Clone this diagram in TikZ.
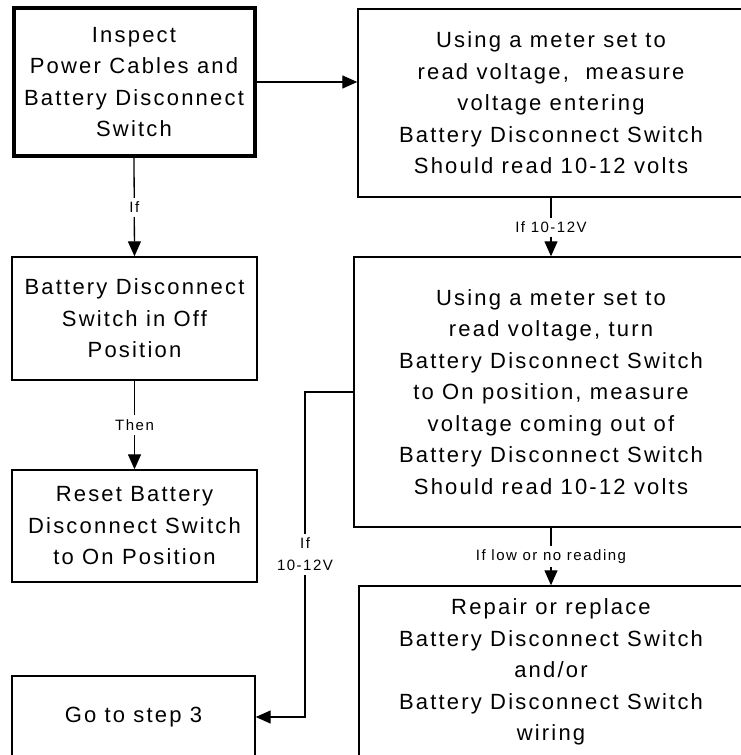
\documentclass[tikz,border=0pt]{standalone}
\usepackage{fontspec}
\setmainfont{Liberation Sans}[LetterSpace=10]
\usetikzlibrary{arrows.meta}

\begin{document}
\begin{tikzpicture}[x=1pt, y=-1pt, >={Triangle[length=15pt, width=13pt]},
    stepbox/.style={draw, line width=1.4pt, align=center, inner sep=0pt,
      font=\fontsize{22}{31.5}\selectfont},
    firstbox/.style={stepbox, line width=4pt},
    arr/.style={->, line width=1.3pt},
    tag/.style={fill=white, align=center, inner sep=4pt,
      font=\fontsize{15}{22}\selectfont}]
  \useasboundingbox (0,0) rectangle (741,755);
  % left column
  \node[firstbox, minimum width=241pt, minimum height=148pt] (insp) at (134,82)
    {Inspect\\Power Cables and\\Battery Disconnect\\Switch};
  \node[stepbox, minimum width=245pt, minimum height=123pt] (off) at (134.5,318.5)
    {Battery Disconnect\\Switch in Off\\Position};
  \node[stepbox, minimum width=245pt, minimum height=112pt] (reset) at (134.5,526)
    {Reset Battery\\Disconnect Switch\\to On Position};
  \node[stepbox, minimum width=243pt, minimum height=82pt] (go) at (133.5,717)
    {Go to step 3};
  % right column
  \node[stepbox, minimum width=386pt, minimum height=188pt] (meas1) at (551,103)
    {Using a meter set to\\read voltage, \ measure\\voltage entering\\Battery Disconnect Switch\\Should read 10-12 volts};
  \node[stepbox, minimum width=394pt, minimum height=270pt] (meas2) at (551,392)
    {Using a meter set to\\read voltage, turn\\Battery Disconnect Switch\\to On position, measure\\voltage coming out of\\Battery Disconnect Switch\\Should read 10-12 volts};
  \node[stepbox, minimum width=384pt, minimum height=172pt] (repair) at (551,672)
    {Repair or replace\\Battery Disconnect Switch\\and/or\\Battery Disconnect Switch\\wiring};
  \coordinate (bend) at (305,392);
  % connectors
  \draw[arr] (insp.east) -- (insp.east -| meas1.west);
  \draw[arr] (insp.south) -- node[tag] {If} (off.north);
  \draw[arr] (off.south) -- node[tag] {Then} (reset.north);
  \draw[arr] (meas1.south) -- node[tag] {If 10-12V} (meas2.north);
  \draw[arr] (meas2.south) -- node[tag] {If low or no reading} (repair.north);
  \draw[arr] (meas2.west) -- (bend) |- node[tag, pos=0.25] {If\\10-12V} (go.east);
\end{tikzpicture}
\end{document}
